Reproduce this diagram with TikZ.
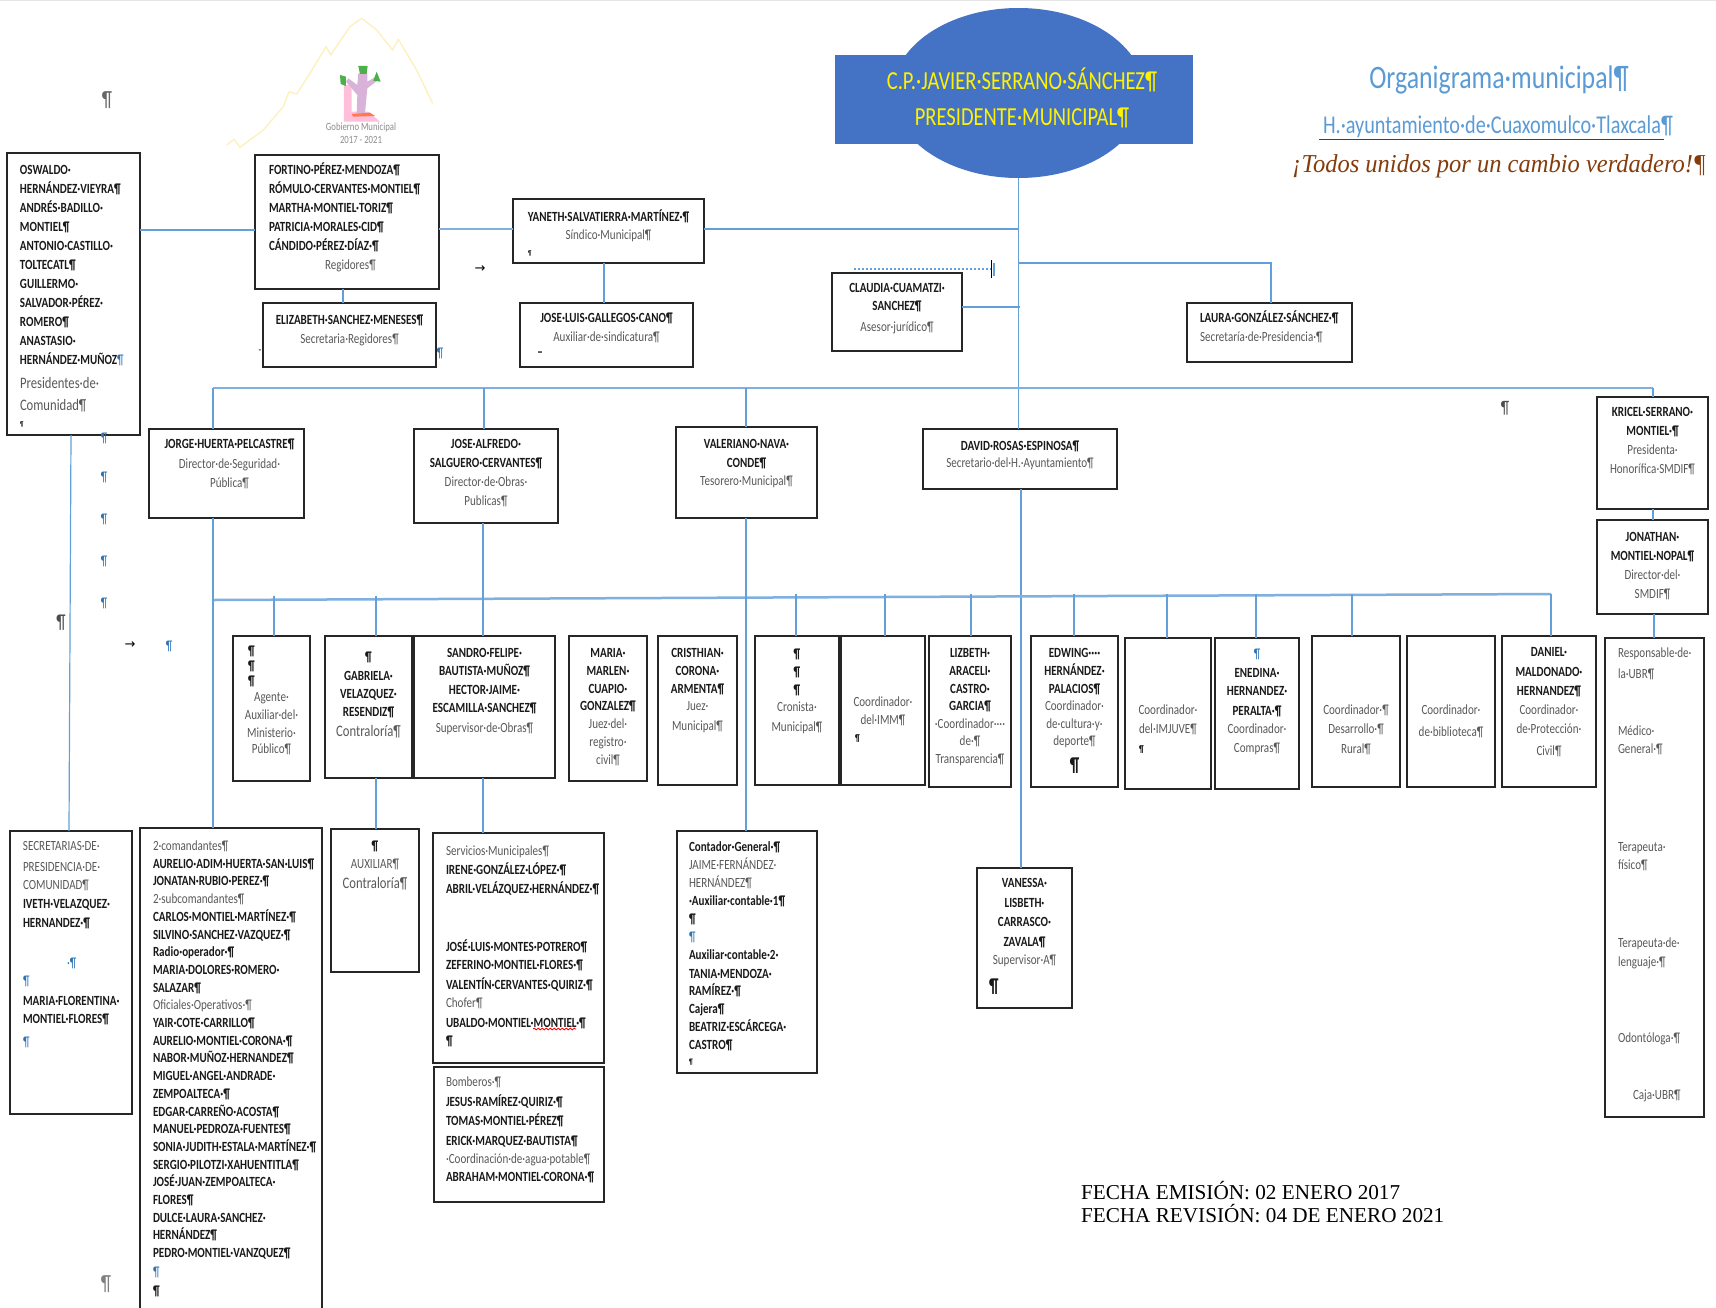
\documentclass[tikz,border=0pt]{standalone}
\usepackage{fontspec}
\setmainfont[FakeStretch=0.79]{Carlito}
\newfontfamily\datefont{Liberation Serif}
\newfontfamily\symf{DejaVu Sans}
\newfontfamily\scriptf[FakeStretch=0.95]{Liberation Serif}
\usetikzlibrary{shapes.geometric,decorations.pathmorphing}
\definecolor{wireblue}{HTML}{639FD8}
\definecolor{busblue}{HTML}{7FB0DF}
\definecolor{bluepres}{HTML}{4472C4}
\definecolor{greytxt}{HTML}{595959}
\definecolor{pilblue}{HTML}{2E74B5}
\definecolor{titleblue}{HTML}{5B9BD5}
\definecolor{brownmotto}{HTML}{843C0C}
\tikzset{
  orgb/.style={draw=black!85,line width=1.4pt,fill=white,inner sep=0pt,outer sep=0pt},
  wire/.style={draw=wireblue,line width=1.2pt},
  bus/.style={draw=busblue,line width=2.5pt},
  glyphn/.style={inner sep=0pt,outer sep=0pt},
}
\newcommand\Cn[1]{\fontsize{14}{#1}\selectfont\bfseries\centering\lineskiplimit=-100pt\color{black!90}\relax}
\newcommand\Lf[2]{\fontsize{14}{#2}\selectfont\bfseries\raggedright\leftskip=#1pt\lineskiplimit=-100pt\color{black!90}\relax}
\newcommand\Rg[1]{{\mdseries\color{greytxt}#1}}
\newcommand\Rl[1]{{\fontsize{16}{16}\selectfont\mdseries\color{greytxt}#1}}
\newcommand\Bl{{\mdseries\color{pilblue}¶}}
\newcommand\Lp[2]{\makebox[\linewidth][l]{\hspace{#1pt}#2}}
\newcommand\orgbox[8]{%
  \pgfmathsetlengthmacro{\bw}{#4-#2}%
  \pgfmathsetlengthmacro{\bh}{#5-#3}%
  \pgfmathsetlengthmacro{\bp}{#6-#3-9.5}%
  \node[orgb] (#1) at ({(#2+#4)/2},{(#3+#5)/2})
   {\parbox[c][\bh][t]{\bw}{\vspace*{\bp}#7\rule{0pt}{14pt}#8\par}};%
}
\newcommand\pil[6]{\node[glyphn,text=#4] (#1) at (#2,#3) {\fontsize{#5}{#5}\selectfont #6};}
\newcommand\tap[3]{\coordinate (tap#1) at (#2,#3); \draw[wire] (tap#1) -- (#2,#3 |- #1.north);}
\begin{document}
\begin{tikzpicture}[x=1pt,y=-1pt]
\useasboundingbox (0,0) rectangle (1716,1307);
\fill[white] (0,0) rectangle (1716,1307);
\fill[black!10] (0,0) rectangle (1716,1);

% logo
\begin{scope}[shift={(220,10)},scale=0.3333]
\draw[draw=yellow!60!orange!25,line width=1.3pt,line join=round]
 (20,405) -- (42,388) -- (60,412) -- (130,360) -- (190,290) -- (207,245) -- (230,252) -- (270,190)
 -- (318,110) -- (332,135) -- (390,50) -- (425,25) -- (470,60) -- (518,120) -- (535,88) -- (590,180) -- (638,280);
\fill[pink!85!magenta!70] (372,225) -- (395,225) -- (395,305) -- (445,305) -- (480,335) -- (372,335) -- cycle;
\fill[violet!30] (415,190) -- (442,190) -- (442,215) -- (468,200) -- (472,212) -- (442,235) -- (435,310) -- (410,310) -- (412,255) -- (378,215) -- (385,205) -- (412,225) -- cycle;
\fill[green!55!black!70] (360,195) -- (378,200) -- (378,228) -- (362,222) -- cycle;
\fill[green!55!black!70] (415,168) -- (443,168) -- (440,192) -- (420,192) -- cycle;
\fill[green!55!black!70] (470,185) -- (482,215) -- (460,212) -- cycle;
\fill[red!50!orange!70] (395,312) -- (450,308) -- (465,318) -- (400,320) -- cycle;
\end{scope}
\pil{logoa}{361}{128}{black!45}{11}{Gobierno Municipal}
\pil{logob}{361}{140}{black!45}{11}{2017 - 2021}

% president
\node[ellipse,fill=bluepres,inner sep=0pt,minimum width=252pt,minimum height=170pt] (presE) at (1018.5,93) {};
\node[fill=bluepres,inner sep=0pt,minimum width=358pt,minimum height=89pt] (pres) at (1014,99.5) {};
\node[inner sep=0pt,text=yellow,align=center,font=\fontsize{26}{36}\selectfont] (prestxt) at (1022,98)
 {C.P.·JAVIER·SERRANO·SÁNCHEZ¶\\PRESIDENTE·MUNICIPAL¶};

% titles
\pil{ta}{1499}{80}{titleblue}{32.7}{Organigrama·municipal¶}
\pil{tb}{1498}{127}{titleblue}{25.6}{H.·ayuntamiento·de·Cuaxomulco·Tlaxcala¶}
\coordinate (ula) at (1319,139.5); \coordinate (ulb) at (1664,139.5);
\draw[black!75,line width=1.2pt] (ula) -- (ulb);
\pil{tc}{1499}{166}{brownmotto}{25.8}{\scriptf\itshape ¡Todos unidos por un cambio verdadero!¶}

% row 1
\orgbox{oswaldo}{7}{153}{140}{435}{170}{\Lf{13}{19}}{OSWALDO·\\HERNÁNDEZ·VIEYRA¶\\ANDRÉS·BADILLO·\\MONTIEL¶\\ANTONIO·CASTILLO·\\TOLTECATL¶\\GUILLERMO·\\SALVADOR·PÉREZ·\\ROMERO¶\\ANASTASIO·\\HERNÁNDEZ·MUÑOZ\Bl\\[5pt]\Rl{Presidentes·de·}\\[3pt]\Rl{Comunidad¶}\\[-3pt]{\fontsize{7}{7}\selectfont ¶}}
\orgbox{fortino}{255}{155}{439}{289}{170}{\Lf{14}{19}}{FORTINO·PÉREZ·MENDOZA¶\\RÓMULO·CERVANTES·MONTIEL¶\\MARTHA·MONTIEL·TORIZ¶\\PATRICIA·MORALES·CID¶\\CÁNDIDO·PÉREZ·DÍAZ·¶\\\hspace*{56pt}\Rg{Regidores¶}}
\orgbox{yaneth}{513}{199}{704}{263}{217}{\Cn{18}}{YANETH·SALVATIERRA·MARTÍNEZ·¶\\\Rg{Síndico·Municipal¶}\\[-2pt]\Lp{15}{\fontsize{7}{7}\selectfont ¶}}
\orgbox{elizabeth}{263}{303}{436}{367}{320}{\Cn{19}}{ELIZABETH·SANCHEZ·MENESES¶\\\Rg{Secretaria·Regidores¶}}
\orgbox{joseluis}{520}{303}{693}{367}{318}{\Cn{19}}{JOSE·LUIS·GALLEGOS·CANO¶\\\Rg{Auxiliar·de·sindicatura¶}}
\orgbox{claudia}{832}{273}{962}{351}{288}{\Cn{18}}{CLAUDIA·CUAMATZI·\\SANCHEZ¶\\[3pt]\Rg{Asesor·jurídico¶}}
\orgbox{laura}{1187}{303}{1352}{362}{318}{\Lf{13}{19}}{LAURA·GONZÁLEZ·SÁNCHEZ·¶\\\Rg{Secretaría·de·Presidencia·¶}}

% row 2
\orgbox{jorge}{149}{429}{304}{518}{444}{\Cn{19.5}}{\hspace*{6pt}JORGE·HUERTA·PELCASTRE¶\\\hspace*{6pt}\Rg{Director·de·Seguridad·}\\\hspace*{6pt}\Rg{Pública¶}}
\orgbox{alfredo}{414}{429}{558}{523}{444}{\Cn{19}}{JOSE·ALFREDO·\\SALGUERO·CERVANTES¶\\\Rg{Director·de·Obras·}\\\Rg{Publicas¶}}
\orgbox{valeriano}{676}{427}{817}{518}{444}{\Cn{18.5}}{VALERIANO·NAVA·\\CONDE¶\\\Rg{Tesorero·Municipal¶}}
\orgbox{david}{923}{429}{1117}{489}{446}{\Cn{17}}{DAVID·ROSAS·ESPINOSA¶\\\Rg{Secretario·del·H.·Ayuntamiento¶}}
\orgbox{kricel}{1597}{397}{1708}{509}{412}{\Cn{19}}{KRICEL·SERRANO·\\MONTIEL·¶\\\Rg{Presidenta·}\\\Rg{Honorífica·SMDIF¶}}
\orgbox{jonathan}{1597}{520}{1708}{614}{537}{\Cn{19}}{JONATHAN·\\MONTIEL·NOPAL¶\\\Rg{Director·del·}\\\Rg{SMDIF¶}}

% row 3
\orgbox{agente}{233}{636}{310}{781}{651}{\Cn{18}}{\Lp{15}{¶}\\[-3pt]\Lp{15}{¶}\\[-3pt]\Lp{15}{¶}\\[-2pt]\Rg{Agente·}\\\Rg{Auxiliar·del·}\\\Rg{Ministerio·}\\[-2pt]\Rg{Público¶}}
\orgbox{gabriela}{325}{636}{412}{778}{657}{\Cn{18.5}}{¶\\GABRIELA·\\VELAZQUEZ·\\[-1pt]RESENDIZ¶\\[2pt]\Rl{Contraloría¶}}
\orgbox{sandro}{414}{636}{555}{778}{653}{\Cn{18.3}}{SANDRO·FELIPE·\\BAUTISTA·MUÑOZ¶\\HECTOR·JAIME·\\ESCAMILLA·SANCHEZ¶\\[2pt]\Rg{Supervisor·de·Obras¶}}
\orgbox{maria}{569}{636}{647}{781}{653}{\Cn{17.8}}{MARIA·\\MARLEN·\\CUAPIO·\\GONZALEZ¶\\\Rg{Juez·del·}\\\Rg{registro·}\\\Rg{civil¶}}
\orgbox{cristhian}{658}{636}{737}{785}{653}{\Cn{17.8}}{CRISTHIAN·\\CORONA·\\ARMENTA¶\\\Rg{Juez·}\\[2pt]\Rg{Municipal¶}}
\orgbox{cronista}{755}{636}{839}{785}{654}{\Cn{17.8}}{¶\\¶\\¶\\\Rg{Cronista·}\\[2pt]\Rg{Municipal¶}}
\orgbox{imm}{841}{636}{925}{785}{702}{\Cn{17.5}}{\Rg{Coordinador·}\\\Rg{del·IMM¶}\\\Lp{14}{\fontsize{10}{10}\selectfont ¶}}
\orgbox{lizbeth}{929}{636}{1011}{787}{653}{\Cn{17.8}}{LIZBETH·\\ARACELI·\\CASTRO·\\GARCIA¶\\\Rg{·Coordinador····}\\[-1pt]\Rg{de·¶}\\\Rg{Transparencia¶}}
\orgbox{edwing}{1031}{636}{1118}{787}{653}{\Cn{17.8}}{EDWING····\\HERNÁNDEZ·\\PALACIOS¶\\\Rg{Coordinador·}\\\Rg{de·cultura·y·}\\[-1pt]\Rg{deporte¶}\\[8pt]{\fontsize{20}{20}\selectfont ¶}}
\orgbox{imjuve}{1125}{638}{1211}{789}{710}{\Cn{19}}{\Rg{Coordinador·}\\\Rg{del·IMJUVE¶}\\\Lp{14}{\fontsize{10}{10}\selectfont ¶}}
\orgbox{enedina}{1215}{638}{1299}{789}{654}{\Cn{18.5}}{\Bl\\ENEDINA·\\HERNANDEZ·\\[1pt]PERALTA·¶\\\Rg{Coordinador·}\\\Rg{Compras¶}}
\orgbox{rural}{1312}{636}{1400}{787}{710}{\Cn{19}}{\Rg{Coordinador·¶}\\\Rg{Desarrollo·¶}\\[1pt]\Rg{Rural¶}}
\orgbox{biblio}{1407}{636}{1495}{787}{710}{\Cn{19}}{\Rg{Coordinador·}\\[3pt]\Rg{de·biblioteca¶}}
\orgbox{daniel}{1502}{636}{1596}{787}{652}{\Cn{19}}{DANIEL·\\[1pt]MALDONADO·\\HERNANDEZ¶\\\Rg{Coordinador·}\\\Rg{de·Protección·}\\[3pt]\Rg{Civil¶}}
\orgbox{ubr}{1605}{638}{1704}{1117}{653}{\Lf{13}{18}}{\Rg{Responsable·de·}\\[3pt]\Rg{la·UBR¶}\\[39pt]\Rg{Médico·}\\\Rg{General·¶}\\[80pt]\Rg{Terapeuta·}\\\Rg{físico¶}\\[60pt]\Rg{Terapeuta·de·}\\[1pt]\Rg{lenguaje·¶}\\[58pt]\Rg{Odontóloga·¶}\\[39pt]\Lp{15}{\Rg{Caja·UBR¶}}}

% row 4
\orgbox{secret}{10}{831}{132}{1114}{846}{\Lf{13}{18.5}}{\Rg{SECRETARIAS·DE·}\\[2pt]\Rg{PRESIDENCIA·DE·}\\\Rg{COMUNIDAD¶}\\IVETH·VELAZQUEZ·\\[1pt]HERNANDEZ·¶\\[21pt]\hspace*{44pt}{\mdseries\color{pilblue}·¶}\\\Bl\\[1pt]MARIA·FLORENTINA·\\MONTIEL·FLORES¶\\[4pt]\Bl}
\orgbox{comand}{140}{828}{322}{1312}{846}{\Lf{13}{17.7}}{\Rg{2·comandantes¶}\\AURELIO·ADIM·HUERTA·SAN·LUIS¶\\JONATAN·RUBIO·PEREZ·¶\\\Rg{2·subcomandantes¶}\\CARLOS·MONTIEL·MARTÍNEZ·¶\\SILVINO·SANCHEZ·VAZQUEZ·¶\\Radio·operador·¶\\MARIA·DOLORES·ROMERO·\\SALAZAR¶\\\Rg{Oficiales·Operativos·¶}\\YAIR·COTE·CARRILLO¶\\AURELIO·MONTIEL·CORONA·¶\\NABOR·MUÑOZ·HERNANDEZ¶\\MIGUEL·ANGEL·ANDRADE·\\ZEMPOALTECA·¶\\EDGAR·CARREÑO·ACOSTA¶\\MANUEL·PEDROZA·FUENTES¶\\SONIA·JUDITH·ESTALA·MARTÍNEZ·¶\\SERGIO·PILOTZI·XAHUENTITLA¶\\JOSÉ·JUAN·ZEMPOALTECA·\\FLORES¶\\DULCE·LAURA·SANCHEZ·\\HERNÁNDEZ¶\\PEDRO·MONTIEL·VANZQUEZ¶\\[1pt]\Bl\\[1pt]¶}
\orgbox{auxcontra}{331}{829}{419}{972}{846}{\Cn{18}}{¶\\\Rg{AUXILIAR¶}\\[2pt]\Rl{Contraloría¶}}
\orgbox{servicios}{433}{833}{604}{1063}{851}{\Lf{13}{18.5}}{\Rg{Servicios·Municipales¶}\\IRENE·GONZÁLEZ·LÓPEZ·¶\\[1pt]ABRIL·VELÁZQUEZ·HERNÁNDEZ·¶\\[39pt]JOSÉ·LUIS·MONTES·POTRERO¶\\ZEFERINO·MONTIEL·FLORES·¶\\[1pt]VALENTÍN·CERVANTES·QUIRIZ·¶\\\Rg{Chofer¶}\\[1pt]UBALDO·MONTIEL·MONTIEL·¶\\¶}
\orgbox{bomberos}{434}{1067}{604}{1202}{1082}{\Lf{12}{19}}{\Rg{Bomberos·¶}\\[1pt]JESUS·RAMÍREZ·QUIRIZ·¶\\TOMAS·MONTIEL·PÉREZ¶\\[1pt]ERICK·MARQUEZ·BAUTISTA¶\\[-1pt]\Rg{·Coordinación·de·agua·potable¶}\\[-1pt]ABRAHAM·MONTIEL·CORONA·¶}
\orgbox{contador}{677}{831}{817}{1073}{847}{\Lf{12}{18}}{Contador·General·¶\\\Rg{JAIME·FERNÁNDEZ·}\\\Rg{HERNÁNDEZ¶}\\·Auxiliar·contable·1¶\\¶\\\Bl\\Auxiliar·contable·2·\\[1pt]TANIA·MENDOZA·\\[-1pt]RAMÍREZ·¶\\Cajera¶\\BEATRIZ·ESCÁRCEGA·\\CASTRO¶\\[-3pt]{\fontsize{8}{8}\selectfont ¶}}
\orgbox{vanessa}{977}{868}{1072}{1008}{883}{\Cn{19.5}}{VANESSA·\\LISBETH·\\CARRASCO·\\ZAVALA¶\\[-1pt]\Rg{Supervisor·A¶}\\[8pt]\Lp{12}{\fontsize{20}{20}\selectfont ¶}}

% connectors
\draw[wire] (presE.south) -- (david.north -| presE.south);
\coordinate (mainlow) at (1021,489);
\draw[wire] (mainlow) -- (vanessa.north -| mainlow);
\coordinate (mainA) at (1019,229);
\coordinate (mainB) at (1019,263);
\coordinate (mainC) at (1020,307);
\draw[wire,line width=1.5pt] (oswaldo.east |- 0,230) -- (fortino.west |- 0,230);
\draw[wire,line width=2pt,draw=busblue] (fortino.east |- 0,229) -- (yaneth.west |- 0,229);
\draw[wire,line width=1.5pt] (yaneth.east |- 0,229) -- (mainA);
\draw[wire,line width=1.5pt] (mainB) -- (1271,263) -- (laura.north -| 1271,0);
\draw[wire] (claudia.east |- mainC) -- (mainC);
\draw[wire] (343,0 |- fortino.south) -- (343,0 |- elizabeth.north);
\draw[wire] (604,0 |- yaneth.south) -- (604,0 |- joseluis.north);
% upper bus
\coordinate (busAl) at (213,388); \coordinate (busAr) at (1653,388);
\draw[bus] (busAl) -- (busAr);
\draw[wire] (busAl) -- (jorge.north -| busAl);
\tap{alfredo}{484}{388}
\tap{valeriano}{746}{388}
\tap{kricel}{1653}{388}
\draw[wire] (kricel.south -| 1653,0) -- (jonathan.north -| 1653,0);
\draw[wire] (jonathan.south -| 1654,0) -- (ubr.north -| 1654,0);
% lower bus
\coordinate (busBl) at (213,600); \coordinate (busBr) at (1551,594);
\draw[bus] (busBl) -- (busBr);
\tap{agente}{274}{596}
\tap{gabriela}{376}{596}
\draw[wire] (483,0 |- alfredo.south) -- (483,0 |- sandro.north);
\tap{cronista}{796}{594}
\tap{imm}{885}{594}
\tap{lizbeth}{971}{594}
\tap{edwing}{1074}{594}
\tap{imjuve}{1167}{594}
\tap{enedina}{1256}{594}
\tap{rural}{1352}{594}
\tap{daniel}{1551}{594}
\draw[wire] (213,0 |- jorge.south) -- (213,0 |- comand.north);
\draw[wire] (746,0 |- valeriano.south) -- (746,0 |- contador.north);
\draw[wire] (376,0 |- gabriela.south) -- (376,0 |- auxcontra.north);
\draw[wire] (483,0 |- sandro.south) -- (483,0 |- servicios.north);
\draw[wire] (71,0 |- oswaldo.south) -- (69,0 |- secret.north);

% tab marks and stray marks
\coordinate (dotA) at (854,269); \coordinate (dotB) at (991,269);
\draw[wireblue,line width=2pt,dotted] (dotA) -- (dotB);
\coordinate (tickA) at (991,260); \coordinate (tickB) at (991,278);
\draw[black,line width=1pt] (tickA) -- (tickB);
\coordinate (tickC) at (994,263); \coordinate (tickD) at (994,276);
\draw[wireblue,line width=2pt] (tickC) -- (tickD);
\pil{pa}{107}{100}{black!60}{22}{¶}
\pil{pb}{104}{438}{pilblue}{14}{¶}
\pil{pc}{104}{477}{pilblue}{14}{¶}
\pil{pd}{104}{519}{pilblue}{14}{¶}
\pil{pe}{104}{561}{pilblue}{14}{¶}
\pil{pf}{104}{603}{pilblue}{14}{¶}
\pil{pg}{61}{623}{black!70}{20}{¶}
\pil{ph}{130}{645}{black}{13}{\symf →}
\pil{pi}{169}{646}{pilblue}{14}{¶}
\pil{pj}{480}{269}{black}{13}{\symf →}
\pil{pk}{440}{353}{pilblue}{14}{¶}
\pil{pl}{260}{352}{black}{11}{-}
\pil{pm}{540}{354}{black}{14}{\bfseries –}
\pil{pn}{1505}{408}{black!70}{18}{¶}
\pil{po}{106}{1284}{black!50}{22}{¶}
% spelling mark
\coordinate (wavA) at (533,1029); \coordinate (wavB) at (576,1029);
\draw[red,line width=.8pt,decorate,decoration={snake,amplitude=.9pt,segment length=4pt}] (wavA) -- (wavB);
% dates
\node[glyphn,anchor=west,text=black] (da) at (1081,1191) {\fontsize{21.2}{22}\selectfont\datefont FECHA EMISIÓN: 02 ENERO 2017};
\node[glyphn,anchor=west,text=black] (db) at (1081,1214) {\fontsize{21.2}{22}\selectfont\datefont FECHA REVISIÓN: 04 DE ENERO 2021};
\end{tikzpicture}
\end{document}
